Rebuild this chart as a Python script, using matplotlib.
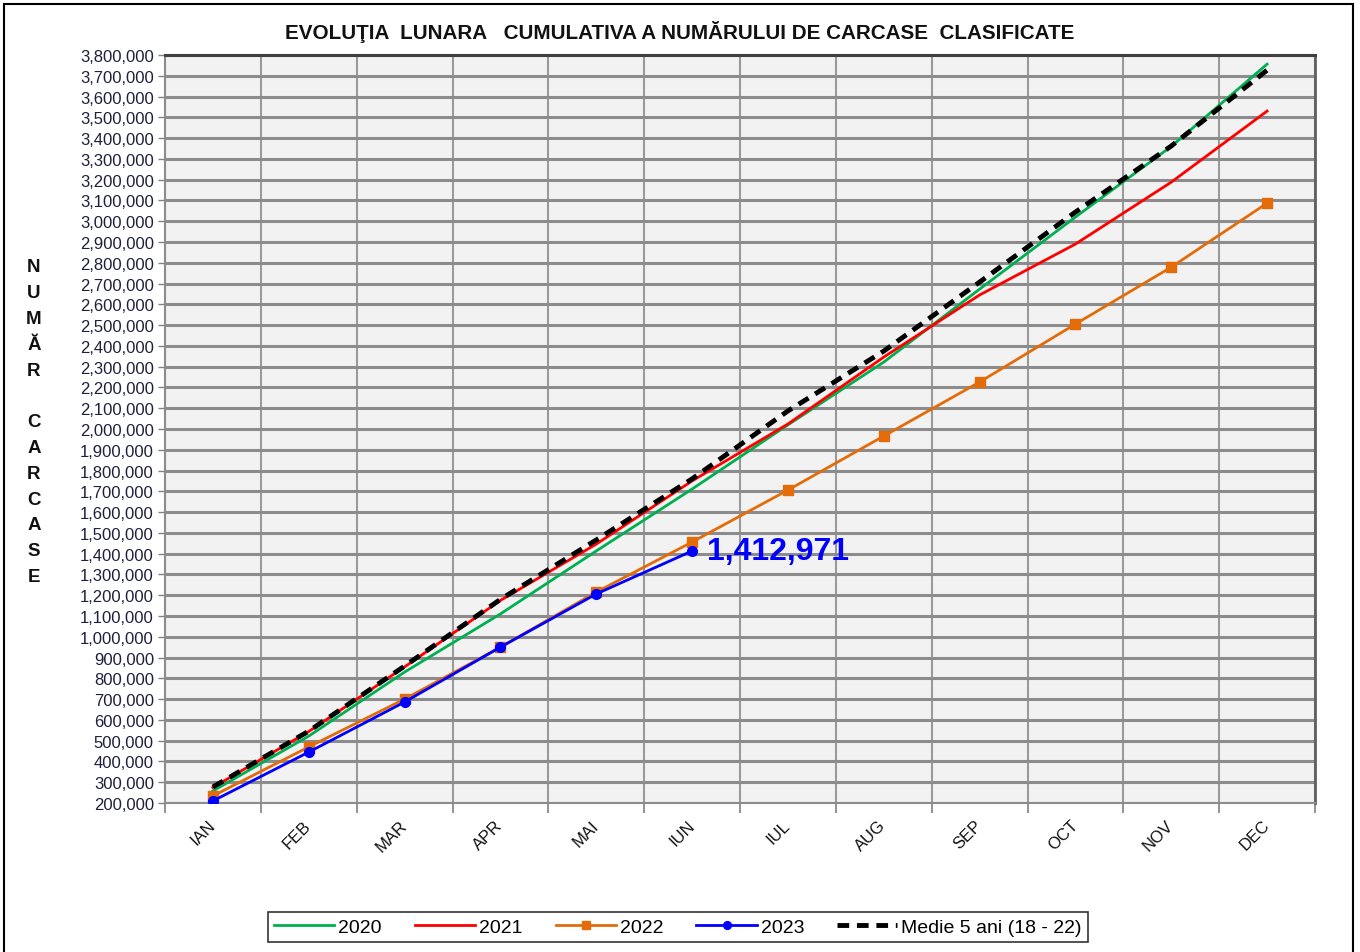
import matplotlib.pyplot as plt
from matplotlib.patches import Rectangle
from matplotlib.ticker import FuncFormatter, MultipleLocator

#### Data

MONTHS = ['IAN', 'FEB', 'MAR', 'APR', 'MAI', 'IUN', 'IUL', 'AUG', 'SEP', 'OCT', 'NOV', 'DEC']

Y2020 = [258000, 522000, 830000, 1110000, 1413000, 1711000, 2020000, 2322000, 2673000, 3020000, 3360000, 3756000]
Y2021 = [275000, 544000, 855000, 1175000, 1446000, 1750000, 2024000, 2346000, 2645000, 2890000, 3188000, 3530000]
Y2022 = [234000, 470000, 700000, 950000, 1215000, 1456000, 1706000, 1966000, 2226000, 2505000, 2779000, 3087000]
Y2023 = [210000, 445000, 686000, 950000, 1206000, 1412971]
MEDIE = [277000, 546000, 859000, 1180000, 1466000, 1760000, 2087000, 2375000, 2707000, 3044000, 3362000, 3727000]

TITLE = 'EVOLUŢIA  LUNARA   CUMULATIVA A NUMĂRULUI DE CARCASE  CLASIFICATE'
YLABEL = 'NUMĂR CARCASE'

#### Plot

plt.rcParams['font.family'] = ['Liberation Sans', 'DejaVu Sans']

fig = plt.figure(figsize=(13.6, 9.53), dpi=100)
ax = fig.add_axes([165 / 1360, 1 - 804 / 953, 1150 / 1360, 748 / 953])

# outer frame of the chart
fig.patches.append(Rectangle((4 / 1360, -0.01), 1349 / 1360, 1 - 5 / 953 + 0.01,
                             transform=fig.transFigure, fill=False,
                             edgecolor='black', linewidth=1.5))

x = list(range(len(MONTHS)))
ax.plot(x, Y2020, color='#00b050', linewidth=2, label='2020', zorder=3)
ax.plot(x, Y2021, color='#ff0000', linewidth=2, label='2021', zorder=4)
ax.plot(x, Y2022, color='#e36c09', linewidth=2, marker='s', markersize=7, label='2022', zorder=5)
ax.plot(x[:len(Y2023)], Y2023, color='#0000ff', linewidth=2, marker='o', markersize=7,
        label='2023', zorder=6)
ax.plot(x, MEDIE, color='black', linewidth=3.5, linestyle=(0, (2.4, 1.6)),
        label='Medie 5 ani (18 - 22)', zorder=5)

ax.annotate(f'{Y2023[-1]:,}', xy=(x[len(Y2023) - 1], Y2023[-1]), xytext=(11, 0),
            textcoords='offset points', color='#0000ff', fontsize=23, fontweight='bold',
            va='center', ha='left', zorder=7)

ax.set_facecolor('#f2f2f2')
ax.set_xlim(-0.5, len(MONTHS) - 0.5)
ax.set_ylim(200000, 3800000)

ax.yaxis.set_major_locator(MultipleLocator(100000))
ax.yaxis.set_major_formatter(FuncFormatter(lambda v, p: f'{int(v):,}'))
ax.tick_params(axis='y', labelsize=12, labelcolor='#1f1f3f', color='#808080',
               length=5, width=1, pad=3)

ax.set_xticks(x)
ax.set_xticklabels(MONTHS, rotation=45, ha='right', va='center', rotation_mode='anchor',
                   fontsize=12, color='#111111')
ax.set_xticks([i - 0.5 for i in range(len(MONTHS) + 1)], minor=True)
ax.tick_params(axis='x', which='major', length=0, pad=14)
ax.tick_params(axis='x', which='minor', length=7, width=1.2, color='#808080')

ax.grid(True, axis='y', which='major', color='#8c8c8c', linewidth=2.2, zorder=0)
ax.grid(True, axis='x', which='minor', color='#999999', linewidth=1.5, zorder=0)
ax.set_axisbelow(True)

for side in ['left', 'bottom']:
    ax.spines[side].set_color('#8c8c8c')
    ax.spines[side].set_linewidth(1.5)
ax.spines['top'].set_color('#404040')
ax.spines['top'].set_linewidth(2.2)
ax.spines['right'].set_color('#606060')
ax.spines['right'].set_linewidth(2)

fig.text(680 / 1360, 1 - 32 / 953, TITLE, ha='center', va='center',
         fontsize=14.9, fontweight='bold', color='#111111')

# stacked vertical axis title, one letter per row, blank row between words
row = 0
for ch in YLABEL:
    if ch != ' ':
        fig.text(34 / 1360, 1 - (268 + row * 25.8) / 953, ch, ha='center', va='center',
                 fontsize=13.5, fontweight='bold', color='#111111')
    row += 1

leg = fig.legend(loc='center', bbox_to_anchor=(678 / 1360, 1 - 928 / 953), ncol=5,
                 fontsize=14, frameon=True, fancybox=False, edgecolor='black',
                 handlelength=3.1, columnspacing=1.7, handletextpad=0.2,
                 borderpad=0.3, markerscale=0.8)
leg.get_frame().set_linewidth(1.2)

fig.savefig('out.png', dpi=100)
